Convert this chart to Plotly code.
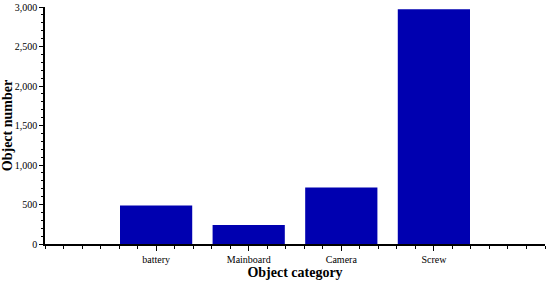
import plotly.graph_objects as go

# Data
categories = ["battery", "Mainboard", "Camera", "Screw"]
counts = [488, 240, 715, 2970]
positions = [0, 1, 2, 3]

fig = go.Figure()
fig.add_trace(go.Bar(
    x=positions,
    y=counts,
    width=0.78,
    marker=dict(color="#0000B0", line=dict(width=0)),
))

axis_font = dict(family="Liberation Serif", size=10, color="black")
title_font = dict(family="Liberation Serif", size=14, color="black")

fig.update_layout(
    width=550, height=285,
    margin=dict(l=45, r=5, t=7, b=41, autoexpand=False),
    plot_bgcolor="white", paper_bgcolor="white",
    showlegend=False,
    xaxis=dict(
        range=[-1.2, 4.2],
        tickvals=positions,
        ticktext=categories,
        ticks="outside", ticklen=5, tickwidth=1, tickcolor="black",
        minor=dict(tick0=0, dtick=0.2, ticks="outside", ticklen=3, tickcolor="black", showgrid=False),
        showline=True, linecolor="black", linewidth=1.5,
        showgrid=False, zeroline=False,
        tickfont=axis_font, automargin=False,
        title=dict(text="<b>Object category</b>", font=title_font, standoff=2),
    ),
    yaxis=dict(
        range=[0, 3000],
        tickvals=[0, 500, 1000, 1500, 2000, 2500, 3000],
        tickformat=",",
        ticks="outside", ticklen=4, tickwidth=1, tickcolor="black",
        minor=dict(tick0=0, dtick=100, ticks="outside", ticklen=2, tickcolor="black", showgrid=False),
        showline=True, linecolor="black", linewidth=1.5,
        showgrid=False, zeroline=False,
        tickfont=axis_font, automargin=False,
        title=dict(text="<b>Object number</b>", font=title_font, standoff=0),
    ),
)

# the page body has a default margin; remove it so the figure sits at the corner
fig.write_html("out.html", config={"displayModeBar": False},
               post_script="document.body.style.margin='0';")
